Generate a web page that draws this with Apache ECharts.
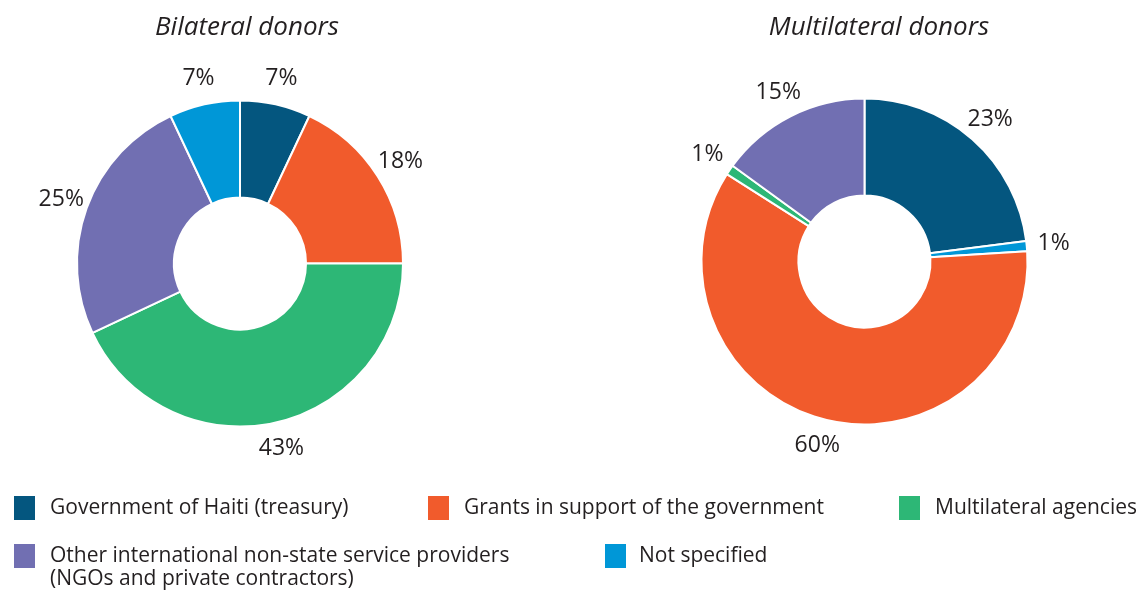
<!DOCTYPE html>
<html>
<head>
<meta charset="utf-8">
<script src="https://cdn.jsdelivr.net/npm/echarts@6/dist/echarts.min.js"></script>
<style>
html,body{margin:0;padding:0;background:#fff;}
#chart{width:1146px;height:594px;}
</style>
</head>
<body>
<div id="chart"></div>
<script>
// Data
const titles = ['Bilateral donors', 'Multilateral donors'];
const categories = [
  'Government of Haiti (treasury)',
  'Grants in support of the government',
  'Multilateral agencies',
  'Other international non-state service providers',
  'Not specified'
];
const legendSecondLine = '(NGOs and private contractors)';
const colors = ['#04567F', '#F15B2C', '#2DB776', '#716FB2', '#0097D7'];
// slice order as drawn clockwise from 12 o'clock (indices into categories)
const bilateralOrder = [0, 1, 2, 3, 4];
const bilateralValues = [7, 18, 43, 25, 7];
const multilateralOrder = [0, 4, 1, 2, 3];
const multilateralValues = [23, 1, 60, 1, 15];

const FONT = '"Open Sans", "Noto Sans", sans-serif';
const TXT = '#231F20';

function pieData(order, values, colored) {
  return order.map((ci, i) => {
    const d = { name: categories[ci], value: values[i] };
    if (colored) d.itemStyle = { color: colors[ci] };
    return d;
  });
}

function donut(center, order, values) {
  return {
    type: 'pie',
    center: center,
    radius: [66, 163],
    startAngle: 90,
    clockwise: true,
    silent: true,
    label: { show: false },
    labelLine: { show: false },
    itemStyle: { borderColor: '#fff', borderWidth: 2 },
    data: pieData(order, values, true)
  };
}

function labelRing(center, order, values) {
  return {
    type: 'pie',
    center: center,
    radius: [177, 197],
    startAngle: 90,
    clockwise: true,
    silent: true,
    avoidLabelOverlap: false,
    minShowLabelAngle: 0,
    itemStyle: { color: 'rgba(0,0,0,0)', borderWidth: 0 },
    label: {
      show: true,
      position: 'inside',
      formatter: '{c}%',
      color: TXT,
      fontFamily: FONT,
      fontSize: 23,
      overflow: 'none',
      rotate: 0
    },
    labelLine: { show: false },
    data: pieData(order, values, false)
  };
}

const legendPos = [
  { left: 12, top: 494 },
  { left: 426, top: 494 },
  { left: 897, top: 494 },
  { left: 12, top: 542 },
  { left: 603, top: 542 }
];

const legends = categories.map((name, i) => ({
  data: [{ name: name, icon: 'rect', itemStyle: { color: colors[i] } }],
  left: legendPos[i].left,
  top: legendPos[i].top,
  orient: 'horizontal',
  padding: 0,
  itemWidth: 23,
  itemHeight: 26,
  itemGap: 0,
  selectedMode: false,
  textStyle: {
    fontFamily: FONT,
    fontSize: 21,
    color: TXT,
    padding: [0, 0, 0, i === 4 ? 7 : 9]
  }
}));

const chart = echarts.init(document.getElementById('chart'), null, { renderer: 'canvas' });
chart.setOption({
  animation: false,
  backgroundColor: '#fff',
  title: [
    { text: titles[0], left: 242, top: 10, textAlign: 'center',
      textStyle: { fontFamily: FONT, fontStyle: 'italic', fontWeight: 'normal', fontSize: 26, color: TXT } },
    { text: titles[1], left: 874, top: 10, textAlign: 'center',
      textStyle: { fontFamily: FONT, fontStyle: 'italic', fontWeight: 'normal', fontSize: 26, color: TXT } },
    { text: legendSecondLine, left: 50, top: 569, padding: 0,
      textStyle: { fontFamily: FONT, fontWeight: 'normal', fontSize: 21, color: TXT } }
  ],
  legend: legends,
  series: [
    donut([240, 263.5], bilateralOrder, bilateralValues),
    donut([864.5, 261.5], multilateralOrder, multilateralValues),
    labelRing([240, 263.5], bilateralOrder, bilateralValues),
    labelRing([864.5, 261.5], multilateralOrder, multilateralValues)
  ]
});
</script>
</body>
</html>
